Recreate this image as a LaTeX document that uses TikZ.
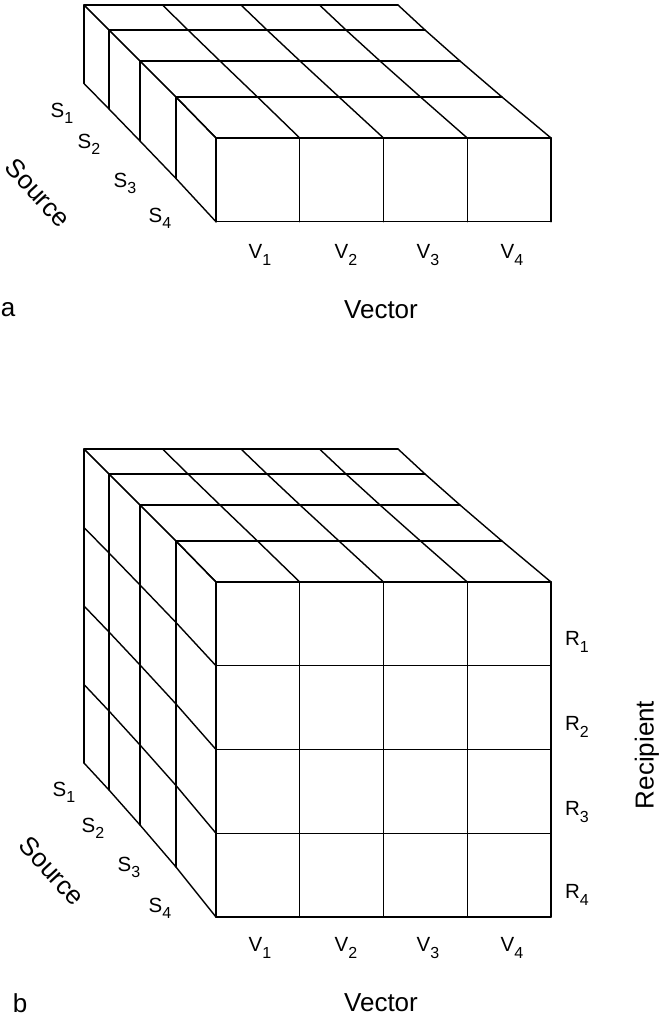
\documentclass[tikz,border=0pt]{standalone}
\usepackage{fontspec}
\setmainfont{Liberation Sans}
\usetikzlibrary{positioning}

\newcommand{\lbsub}[2]{#1\raisebox{-0.3em}{\fontsize{16}{16}\selectfont #2}}

\tikzset{
  gridline/.style={line width=1.4pt, line join=round, line cap=round},
  small/.style={font=\fontsize{20.5}{24}\selectfont, inner sep=0pt},
  big/.style={font=\fontsize{26}{30}\selectfont, inner sep=0pt},
}

\begin{document}
\begin{tikzpicture}[x=1pt, y=-1pt]
\useasboundingbox (0,0) rectangle (659,1019);

% the two blocks: a is one row high, b four rows
\foreach \nm/\dy/\rows in {a/0/1, b/444/4} {
  % layers from back (0) to front (4)
  \foreach \k/\L/\T/\c in {0/84/5/78.5, 1/109/30/79, 2/140/61/80, 3/176/97/81.5, 4/216/138/83.75} {
    \foreach \j in {0,...,4}
      \coordinate (\nm t\k\j) at (\L+\j*\c, \T+\dy);
    \foreach \i in {0,...,\rows}
      \coordinate (\nm s\k\i) at (\L, \T+\dy+\i*\c);
    \draw[gridline] (\nm t\k0) -- (\nm t\k4);
    \draw[gridline] (\nm s\k0) -- (\nm s\k\rows);
  }
  % top face
  \foreach \j in {0,...,4}
    \draw[gridline] (\nm t0\j) -- (\nm t1\j) -- (\nm t2\j) -- (\nm t3\j) -- (\nm t4\j);
  % left face
  \foreach \i in {0,...,\rows}
    \draw[gridline] (\nm s0\i) -- (\nm s1\i) -- (\nm s2\i) -- (\nm s3\i) -- (\nm s4\i);
  % front face
  \foreach \i in {0,...,\rows}
    \draw[gridline] (\nm s4\i) -- ++(335,0);
  \foreach \j in {0,...,4}
    \draw[gridline] (\nm t4\j) -- ++(0,\rows*83.75);
}

% labels of a
\node[small] (s1a) at (62,113) {\lbsub{S}{1}};
\node[small] (s2a) at (89,144) {\lbsub{S}{2}};
\node[small] (s3a) at (125,183) {\lbsub{S}{3}};
\node[small] (s4a) at (160,218) {\lbsub{S}{4}};
\node[big, rotate=-47] (srca) at (38,193) {Source};
\foreach \j/\x in {1/260, 2/346, 3/428, 4/512}
  \node[small] (v\j a) at (\x,255) {\lbsub{V}{\j}};
\node[big] (veca) at (381,310) {Vector};
\node[big] (taga) at (8,310) {a};

% labels of b
\node[small] (s1b) at (64,792) {\lbsub{S}{1}};
\node[small] (s2b) at (93,828) {\lbsub{S}{2}};
\node[small] (s3b) at (129,867) {\lbsub{S}{3}};
\node[small] (s4b) at (160,908) {\lbsub{S}{4}};
\node[big, rotate=-47] (srcb) at (52,871) {Source};
\foreach \j/\x in {1/260, 2/346, 3/428, 4/512}
  \node[small] (v\j b) at (\x,948) {\lbsub{V}{\j}};
\foreach \i/\y in {1/642, 2/727, 3/812, 4/895}
  \node[small] (r\i) at (577,\y) {\lbsub{R}{\i}};
\node[big, rotate=90] (recb) at (647,755) {Recipient};
\node[big] (vecb) at (381,1003) {Vector};
\node[big] (tagb) at (20,1003) {b};
\end{tikzpicture}
\end{document}
